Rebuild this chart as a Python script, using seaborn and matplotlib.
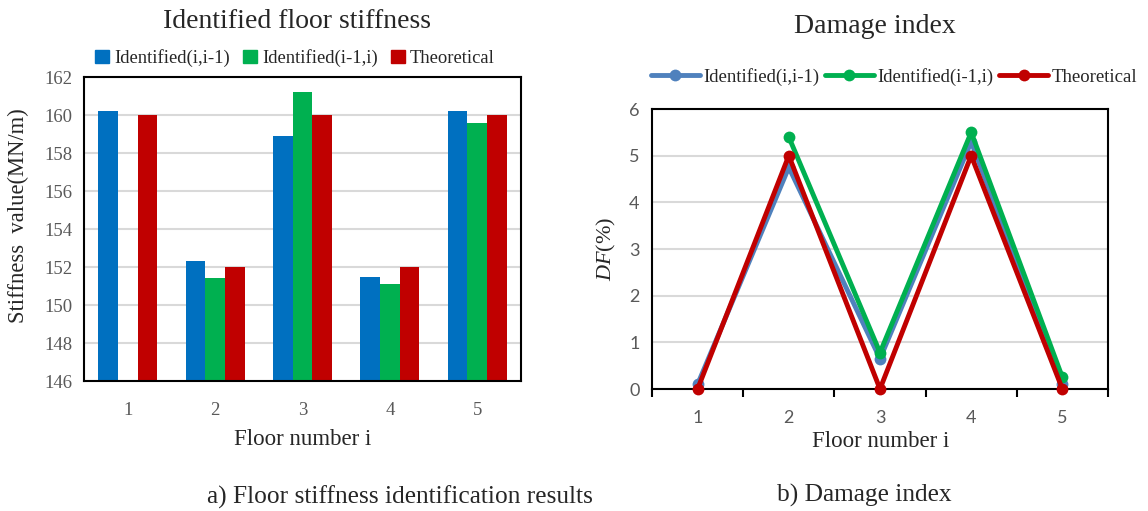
import numpy as np
import pandas as pd
import matplotlib
matplotlib.use('Agg')
import matplotlib.pyplot as plt
import seaborn as sns

# data
floors = [1, 2, 3, 4, 5]
series_names = ['Identified(i,i-1)', 'Identified(i-1,i)', 'Theoretical']
stiff_ii1 = [160.2, 152.3, 158.9, 151.5, 160.2]
stiff_i1i = [np.nan, 151.4, 161.2, 151.1, 159.6]
stiff_theo = [160.0, 152.0, 160.0, 152.0, 160.0]
df_ii1 = [0.1, 4.75, 0.65, 5.3, 0.1]
df_i1i = [np.nan, 5.4, 0.78, 5.5, 0.25]
df_theo = [0.0, 5.0, 0.0, 5.0, 0.0]

bar_colors = ['#0070C0', '#00B050', '#C00000']
line_colors = ['#4F81BD', '#00B050', '#C00000']

sns.set_style('white')
plt.rcParams['font.family'] = ['Liberation Serif', 'DejaVu Serif']
plt.rcParams['mathtext.fontset'] = 'custom'
plt.rcParams['mathtext.it'] = 'Liberation Serif:italic'
plt.rcParams['mathtext.rm'] = 'Liberation Serif'

#long tables for seaborn
dfStiff = pd.DataFrame({'Floor': floors * 3,
                        'Value': stiff_ii1 + stiff_i1i + stiff_theo,
                        'Series': np.repeat(series_names, 5)})
dfDamage = pd.DataFrame({'Floor': floors * 3,
                         'Value': df_ii1 + df_i1i + df_theo,
                         'Series': np.repeat(series_names, 5)})

W, H = 1148, 511
fig = plt.figure(figsize=(W / 100, H / 100), dpi=100)
# axes boxes in pixels: left, top, right, bottom
ax1 = fig.add_axes([84/W, 1 - 381/H, (521-84)/W, (381-77)/H])
ax2 = fig.add_axes([652/W, 1 - 389/H, (1108-652)/W, (389-109)/H])

tick_color = '#595959'

# %% bar chart
sns.barplot(data=dfStiff, x='Floor', y='Value', hue='Series', palette=bar_colors,
            width=0.675, saturation=1, ax=ax1, legend=False, zorder=2, linewidth=0)
ax1.set_ylim(146, 162)
ax1.set_yticks(np.arange(146, 163, 2))
ax1.yaxis.grid(True, color='#D9D9D9', linewidth=1.5, zorder=0)
ax1.set_axisbelow(True)
for s in ax1.spines.values():
    s.set_color('black')
    s.set_linewidth(1.5)
    s.set_zorder(5)
ax1.tick_params(axis='both', length=0, labelsize=13.5, colors=tick_color, pad=8)
ax1.tick_params(axis='x', pad=15)
ax1.set_xlabel('Floor number i', fontsize=16.5)
ax1.xaxis.label.set_va('center')
ax1.xaxis.set_label_coords(0.501, -0.194)
ax1.set_ylabel('Stiffness  value(MN/m)', fontsize=16.3)
ax1.yaxis.label.set_va('center')
ax1.yaxis.set_label_coords(-0.149, 0.543)
ax1.set_title('Identified floor stiffness', fontsize=20, x=0.487, y=1.181, pad=0, va='center')
handles = [plt.Rectangle((0, 0), 1, 1, color=c) for c in bar_colors]
ax1.legend(handles, series_names, loc='center', bbox_to_anchor=(0.483, 1.0625),
           ncol=3, frameon=False, fontsize=13.4, handlelength=0.75, handleheight=0.75,
           handletextpad=0.27, columnspacing=0.7, borderaxespad=0, borderpad=0)

# %% line chart
for name, col in zip(series_names, line_colors):
    sub = dfDamage[dfDamage['Series'] == name]
    sns.lineplot(data=sub, x='Floor', y='Value', color=col, linewidth=3.5,
                 marker='o', markersize=8.5, markeredgewidth=0, ax=ax2, label=name,
                 zorder=6, clip_on=False)
ax2.set_xlim(0.5, 5.5)
ax2.set_ylim(0, 6)
ax2.set_yticks(range(0, 7))
ax2.set_xticks(np.arange(0.5, 5.6, 1))
ax2.set_xticklabels([])
ax2.set_xticks(floors, minor=True)
ax2.set_xticklabels([str(f) for f in floors], minor=True, family=['Lato', 'DejaVu Sans'])
ax2.set_yticklabels([str(v) for v in range(0, 7)], family=['Lato', 'DejaVu Sans'])
ax2.tick_params(axis='x', which='major', bottom=True, length=6, width=1.5,
                color='black', direction='out')
ax2.tick_params(axis='x', which='minor', bottom=False, length=0, labelsize=13,
                colors=tick_color, pad=15)
ax2.tick_params(axis='y', length=0, labelsize=13, colors=tick_color, pad=9)
ax2.yaxis.grid(True, color='#D9D9D9', linewidth=1.5, zorder=0)
ax2.set_axisbelow(True)
for s in ax2.spines.values():
    s.set_color('black')
    s.set_linewidth(1.5)
    s.set_zorder(5)
ax2.set_xlabel('Floor number i', fontsize=16.5)
ax2.xaxis.label.set_va('center')
ax2.xaxis.set_label_coords(0.502, -0.189)
ax2.set_ylabel(r'$DF$(%)', fontsize=16)
ax2.yaxis.label.set_va('center')
ax2.yaxis.set_label_coords(-0.099, 0.5)
ax2.set_title('Damage index', fontsize=20, x=0.489, y=1.293, pad=0, va='center')
ax2.legend(loc='center', bbox_to_anchor=(0.531, 1.114), ncol=3, frameon=False,
           fontsize=13.5, handlelength=2.6, handletextpad=0.2, columnspacing=0.3,
           borderaxespad=0, borderpad=0)

# captions
fig.text(400/W, 1 - 497/H, 'a) Floor stiffness identification results',
         ha='center', va='center', fontsize=18.3)
fig.text(864/W, 1 - 495/H, 'b) Damage index', ha='center', va='center', fontsize=18.3)

fig.savefig('out.png', dpi=100)
